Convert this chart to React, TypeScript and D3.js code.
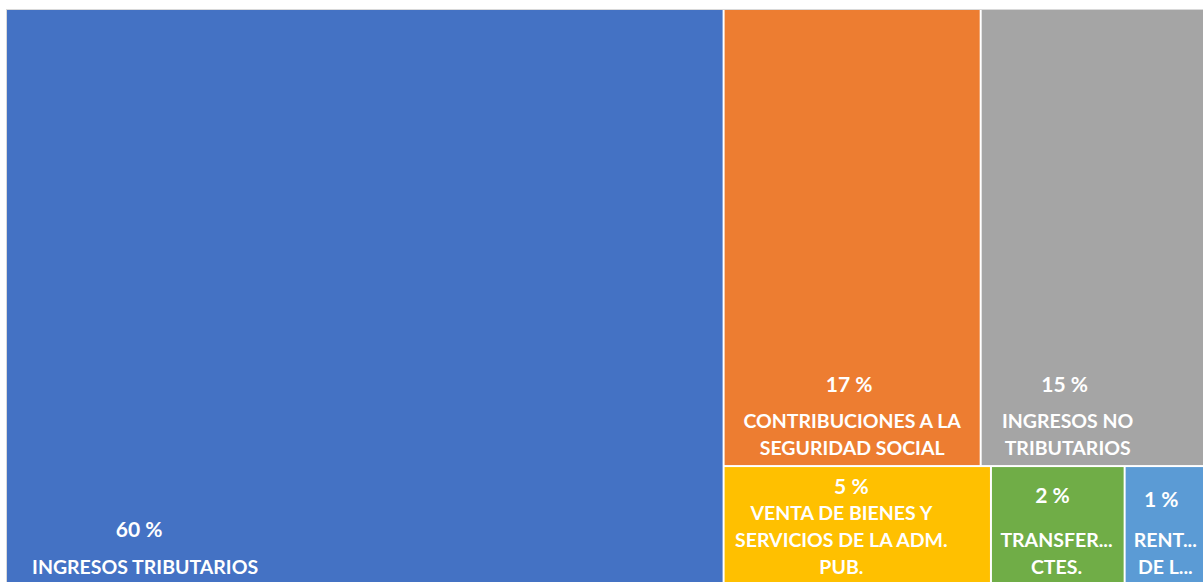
import React, { useEffect, useRef } from 'react';
import * as d3 from 'd3';

// categories and their share of total revenue (percent)
const categories = [
  'INGRESOS TRIBUTARIOS',
  'CONTRIBUCIONES A LA SEGURIDAD SOCIAL',
  'INGRESOS NO TRIBUTARIOS',
  'VENTA DE BIENES Y SERVICIOS DE LA ADM. PUB.',
  'TRANSFERENCIAS CTES.',
  'RENTAS DE LA PROPIEDAD',
];
const values = [59.8, 17.0, 14.9, 4.6, 2.3, 1.4];
// how the labels wrap / get clipped inside each box
const labelLines = [
  ['INGRESOS TRIBUTARIOS'],
  ['CONTRIBUCIONES A LA', 'SEGURIDAD SOCIAL'],
  ['INGRESOS NO', 'TRIBUTARIOS'],
  ['VENTA DE BIENES Y', 'SERVICIOS DE LA ADM.', 'PUB.'],
  ['TRANSFER...', 'CTES.'],
  ['RENT...', 'DE L...'],
];
const colors = ['#4472C4', '#ED7D31', '#A5A5A5', '#FFC000', '#70AD47', '#5B9BD5'];

// label placement inside each box (fraction of width, shift of the % label, gap between % and name)
const labelX = [0.193, 0.5, 0.385, 0.44, 0.49, 0.5];
const pctDx = [-6, -3, -3, 10, -4, -4];
const pctGap = [37, 36, 36, 26, 44, 40];

const W = 1203;
const H = 582;
const box = { left: 7, top: 10, right: 1205, bottom: 584 };

const App = () => {
  const ref = useRef<SVGSVGElement>(null);

  useEffect(() => {
    const svg = d3.select(ref.current);
    svg.selectAll('*').remove();

    const data = {
      name: 'root',
      children: categories.map((c, i) => ({ name: c, value: values[i], i })),
    };
    const total = d3.sum(values);

    const root = d3.hierarchy<any>(data).sum((d: any) => d.value || 0);
    d3.treemap<any>()
      .tile(d3.treemapSquarify)
      .size([box.right - box.left, box.bottom - box.top])
      .paddingInner(2)(root);

    // faint chart border
    svg.append('rect')
      .attr('x', box.left - 0.5)
      .attr('y', box.top - 0.5)
      .attr('width', box.right - box.left + 1)
      .attr('height', box.bottom - box.top + 1)
      .attr('fill', 'none')
      .attr('stroke', '#d9d9d9');

    const g = svg.append('g')
      .attr('transform', `translate(${box.left}, ${box.top})`);

    const leaf = g.selectAll('.leaf')
      .data(root.leaves())
      .enter()
      .append('g')
        .attr('class', 'leaf');

    leaf.append('rect')
      .attr('x', (d: any) => d.x0)
      .attr('y', (d: any) => d.y0)
      .attr('width', (d: any) => d.x1 - d.x0)
      .attr('height', (d: any) => d.y1 - d.y0)
      .attr('fill', (d: any) => colors[d.data.i]);

    leaf.each(function (d: any) {
      const i = d.data.i;
      const lines = labelLines[i];
      const cx = d.x0 + (d.x1 - d.x0) * labelX[i];
      const lastY = d.y1 - 17;
      const firstY = lastY - (lines.length - 1) * 27;
      const sel = d3.select(this);

      sel.append('text')
        .attr('x', cx + pctDx[i])
        .attr('y', firstY - pctGap[i])
        .attr('dy', '0.35em')
        .attr('text-anchor', 'middle')
        .attr('fill', '#fff')
        .style('font-family', 'Lato, sans-serif')
        .style('font-weight', 'bold')
        .style('font-size', '21px')
        .text(`${Math.round((d.value / total) * 100)} %`);

      lines.forEach((line, k) => {
        sel.append('text')
          .attr('x', cx)
          .attr('y', firstY + k * 27)
          .attr('dy', '0.35em')
          .attr('text-anchor', 'middle')
          .attr('fill', '#fff')
          .style('font-family', 'Lato, sans-serif')
          .style('font-weight', 'bold')
          .style('font-size', '19.5px')
          .text(line);
      });
    });
  }, []);

  return (
    <svg
      ref={ref}
      width={W}
      height={H}
      style={{ position: 'absolute', left: 0, top: 0, background: '#fff' }}
    />
  );
};

export default App;
